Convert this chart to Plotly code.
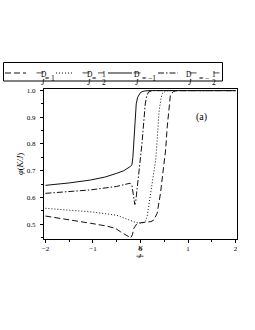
import plotly.graph_objects as go

# D/J = 1 (dashed)
x_d1 = [-2, -1.5, -1.05, -0.7, -0.53, -0.42, -0.3, -0.25, -0.21, -0.17, -0.14, -0.1, -0.07, 0.0, 0.14, 0.22, 0.28, 0.35, 0.42, 0.49, 0.53, 0.56, 0.6, 0.63, 0.7, 0.77, 2]
y_d1 = [0.53, 0.517, 0.503, 0.492, 0.484, 0.471, 0.46, 0.453, 0.447, 0.46, 0.484, 0.497, 0.503, 0.505, 0.506, 0.509, 0.515, 0.54, 0.615, 0.716, 0.78, 0.86, 0.95, 0.985, 0.997, 1.0, 1.0]

# D/J = 1/2 (dotted)
x_dh = [-2, -1.5, -1, -0.5, -0.25, -0.1, 0.0, 0.035, 0.1, 0.14, 0.17, 0.21, 0.25, 0.32, 0.36, 0.39, 0.43, 0.46, 0.53, 0.6, 2]
y_dh = [0.559, 0.552, 0.545, 0.533, 0.515, 0.506, 0.503, 0.503, 0.51, 0.528, 0.565, 0.61, 0.653, 0.74, 0.84, 0.92, 0.97, 0.99, 0.998, 1.0, 1.0]

# D/J = -1 (solid)
x_m1 = [-2, -1.5, -1.05, -0.75, -0.5, -0.35, -0.21, -0.18, -0.16, -0.14, -0.12, -0.09, -0.06, -0.03, 0, 0.05, 0.1, 0.2, 2]
y_m1 = [0.645, 0.654, 0.665, 0.676, 0.69, 0.70, 0.716, 0.722, 0.75, 0.82, 0.90, 0.95, 0.975, 0.987, 0.993, 0.997, 0.999, 1.0, 1.0]

# D/J = -1/2 (dash-dot)
x_mh = [-2, -1.5, -1.05, -0.5, -0.28, -0.22, -0.18, -0.15, -0.12, -0.1, -0.07, -0.03, 0.0, 0.03, 0.06, 0.1, 0.13, 0.17, 0.25, 2]
y_mh = [0.615, 0.621, 0.628, 0.641, 0.652, 0.653, 0.645, 0.61, 0.573, 0.585, 0.628, 0.70, 0.75, 0.80, 0.87, 0.95, 0.98, 0.995, 1.0, 1.0]

names = ["D/J = 1", "D/J = 1/2", "D/J = −1", "D/J = −1/2"]
dashes = ["6px,3px", "1px,2px", "solid", "6px,2px,1.5px,2px"]
# legend value parts: (equals text, numerator, denominator or None)
legend_vals = [("= 1", None, None), ("=", "1", "2"), ("= −1", None, None), ("= −", "1", "2")]
xs = [x_d1, x_dh, x_m1, x_mh]
ys = [y_d1, y_dh, y_m1, y_mh]

x_ticks = [-2, -1, 0, 1, 2]
y_ticks = [0.5, 0.6, 0.7, 0.8, 0.9, 1.0]
y_ticklabels = ["0.5", "0.6", "0.7", "0.8", "0.9", "1.0"]

FONT = "Liberation Serif, Times New Roman, serif"
W, H = 255, 330
ML, MR, MT, MB = 44, 18, 89, 91
PW, PH = W - ML - MR, H - MT - MB


def px(xp):
    return (xp - ML) / PW


def py(yp):
    return (H - MB - yp) / PH


fig = go.Figure()
for x, y, n, d in zip(xs, ys, names, dashes):
    fig.add_trace(go.Scatter(x=x, y=y, mode="lines", name=n, showlegend=False,
                             line=dict(color="#111", width=1, dash=d)))

fig.update_layout(
    width=W, height=H,
    margin=dict(l=ML, r=MR, t=MT, b=MB, autoexpand=False),
    paper_bgcolor="white", plot_bgcolor="white",
    font=dict(family=FONT, color="black", size=7),
    showlegend=False,
    xaxis=dict(range=[-2.03, 2.03], tickvals=x_ticks, ticks="outside", ticklen=3,
               tickwidth=1, tickcolor="black", showgrid=False, zeroline=False,
               showline=True, linecolor="black", linewidth=1, mirror=True,
               tickfont=dict(size=7, family=FONT),
               minor=dict(dtick=0.5, ticks="outside", ticklen=2, tickcolor="black")),
    yaxis=dict(range=[0.444, 1.006], tickvals=y_ticks, ticktext=y_ticklabels, ticks="outside", ticklen=3,
               tickwidth=1, tickcolor="black", showgrid=False, zeroline=False,
               showline=True, linecolor="black", linewidth=1, mirror=True,
               tickfont=dict(size=7, family=FONT), ticklabelstandoff=3,
               minor=dict(dtick=0.05, ticks="outside", ticklen=2, tickcolor="black")),
)
fig.add_annotation(x=1.28, y=0.902, text="(a)", showarrow=False,
                   font=dict(size=10, family=FONT))


def ann(xp, yp, text, size=7, **kw):
    fig.add_annotation(xref="paper", yref="paper", x=px(xp), y=py(yp), text=text,
                       showarrow=False, font=dict(size=size, family=FONT), borderpad=0, **kw)


def bar(cx, half, yp, w=0.7):
    fig.add_shape(type="line", xref="paper", yref="paper",
                  x0=px(cx - half), x1=px(cx + half), y0=py(yp), y1=py(yp),
                  line=dict(color="black", width=w))


# axis titles (stacked fraction K/J as in the original)
ann(140, 252.5, "<i>K</i>", size=7)
bar(140, 3.5, 256.2)
ann(140, 260.5, "<i>J</i>", size=7)
ann(14, 164, "<i>φ</i>(<i>K/J</i>)", size=8.5, textangle=-90)

# ---- custom legend (stacked fractions like the original) ----
box = (3.5, 62.5, 222.5, 81)
fig.add_shape(type="rect", xref="paper", yref="paper",
              x0=px(box[0]), x1=px(box[2]), y0=py(box[3]), y1=py(box[1]),
              line=dict(color="black", width=1), fillcolor="white", layer="above")
sample_x = [(5, 26), (56, 73), (108, 132), (158, 178)]
frac_cx = [40, 86, 137, 193]
val_x = [44, 91, 141, 198]
val_frac_cx = [None, 101, None, 216.5]
yl = 73.0
for (sx0, sx1), d, fc, vx, vfc, (vt, vn, vd) in zip(sample_x, dashes, frac_cx, val_x, val_frac_cx, legend_vals):
    fig.add_shape(type="line", xref="paper", yref="paper",
                  x0=px(sx0), x1=px(sx1), y0=py(yl), y1=py(yl),
                  line=dict(color="#111", width=1, dash=d))
    ann(fc, 68.6, "D", size=7.5)
    bar(fc, 3.5, 72.9)
    ann(fc, 77.3, "<i>J</i>", size=7.5)
    ann(vx, 73.2, vt, size=7.5, xanchor="left")
    if vn is not None:
        ann(vfc, 68.6, vn, size=7.5)
        bar(vfc, 3, 72.9)
        ann(vfc, 77.3, vd, size=7.5)

fig.write_html("out.html", config={"displayModeBar": False},
               post_script="document.body.style.margin='0';document.body.style.overflow='hidden';")
